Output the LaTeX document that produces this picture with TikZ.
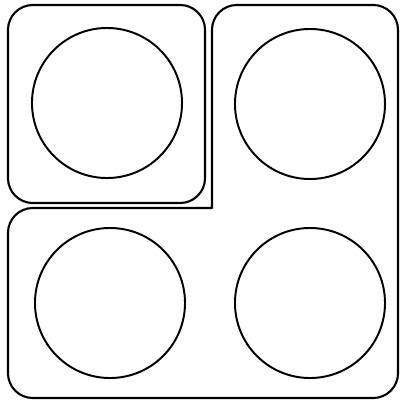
\documentclass[tikz,border=0pt]{standalone}
\usepackage{tikz}

\begin{document}
\begin{tikzpicture}[
  x=0.025cm, y=-0.025cm,
  edge/.style={draw, line width=1.5pt, line join=round},
  burner/.style={draw, circle, line width=1.4pt, minimum size=3.75cm, inner sep=0pt},
]
  \useasboundingbox (0,0) rectangle (402,402);

  % small panel, top left
  \draw[edge, rounded corners=0.62cm] (8,5) rectangle (205,203);

  % L-shaped panel, inner corner kept sharp
  \draw[edge, rounded corners=0.62cm] (212,120) -- (212,5) -- (398,5) -- (398,398)
    -- (8,398) -- (8,208) -- (60,208) [sharp corners] -- (212,208) -- cycle;

  \node[burner] (tl) at (107,103) {};
  \node[burner] (tr) at (310,104) {};
  \node[burner] (bl) at (110,303) {};
  \node[burner] (br) at (310,303) {};
\end{tikzpicture}
\end{document}
